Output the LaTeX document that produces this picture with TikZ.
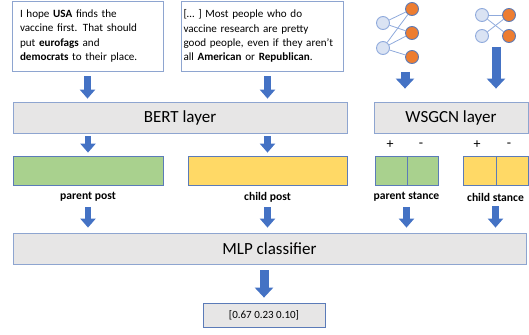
\documentclass[tikz,border=0pt]{standalone}
\usepackage{fontspec}
\setmainfont{Carlito}
\usetikzlibrary{arrows.meta}
\definecolor{boxgrey}{HTML}{E7E6E6}
\definecolor{boxline}{HTML}{8EA5D0}
\definecolor{arrowblue}{HTML}{4472C4}
\definecolor{barline}{HTML}{5B7BB8}
\definecolor{pgreen}{HTML}{A9D18E}
\definecolor{cyellow}{HTML}{FFD966}
\definecolor{nodeblue}{HTML}{DAE3F3}
\definecolor{nodeedge}{HTML}{8FAADC}
\definecolor{orangenode}{HTML}{ED7D31}
\begin{document}
\begin{tikzpicture}[x=1pt,y=-1pt,
  textbox/.style={draw=boxline, line width=0.8pt, fill=white, inner sep=0pt, align=left,
    font=\fontsize{11.1}{14.2}\selectfont},
  layer/.style={draw=boxline, fill=boxgrey, line width=0.8pt, inner sep=0pt,
    font=\fontsize{17}{20}\selectfont},
  bar/.style={draw=barline, line width=0.8pt, inner sep=0pt, minimum height=29pt},
  lbl/.style={font=\fontsize{11.6}{13}\selectfont\bfseries, inner sep=1pt},
  sign/.style={font=\fontsize{14}{16}\selectfont, inner sep=1pt},
  bnode/.style={circle, minimum size=13pt, inner sep=0pt, fill=nodeblue, draw=nodeedge, line width=0.9pt},
  onode/.style={circle, minimum size=13pt, inner sep=0pt, fill=orangenode, draw=barline, line width=0.9pt},
  gedge/.style={draw=nodeedge, line width=0.8pt},
  barrow/.style={draw=arrowblue, line width=6.5pt, -{Triangle[width=15pt,length=9pt]}},
  bigarrow/.style={draw=arrowblue, line width=9pt, -{Triangle[width=18pt,length=10pt]}}
]
\useasboundingbox (0,0) rectangle (529,334);

% input posts
\node[textbox, minimum width=151pt, minimum height=70pt, text width=135pt] (box1) at (87.5,36)
  {I hope \textbf{USA} finds the\\ vaccine first. That should\\ put \textbf{eurofags} and\\ \textbf{democrats} to their place.};
\node[textbox, minimum width=162pt, minimum height=70pt, text width=157pt] (box2) at (262,36)
  {[… ] Most people who do\\ vaccine research are pretty\\ good people, even if they aren't\\ all \textbf{American} or \textbf{Republican}.};

% graphs
\node[bnode] (g1b1) at (383,23) {};
\node[bnode] (g1b2) at (383,48) {};
\node[onode] (g1o1) at (412,9) {};
\node[onode] (g1o2) at (412,33) {};
\node[onode] (g1o3) at (412,57) {};
\draw[gedge] (g1b1) -- (g1o1);
\draw[gedge] (g1b1) -- (g1o2);
\draw[gedge] (g1b2) -- (g1o1);
\draw[gedge] (g1b2) -- (g1o2);
\draw[gedge] (g1b2) -- (g1o3);

\node[bnode] (g2b1) at (482,15) {};
\node[bnode] (g2b2) at (482,36) {};
\node[onode] (g2o1) at (509,15) {};
\node[onode] (g2o2) at (509,36) {};
\draw[gedge] (g2b1) -- (g2o1);
\draw[gedge] (g2b1) -- (g2o2);
\draw[gedge] (g2b2) -- (g2o1);

% layers
\node[layer, minimum width=334pt, minimum height=31pt] (bert) at (180,117.5) {BERT layer};
\node[layer, minimum width=154pt, minimum height=31pt] (wsgcn) at (451,117.5) {WSGCN layer};

% embeddings
\node[bar, fill=pgreen, minimum width=150pt] (pp) at (88,170.5) {};
\node[bar, fill=cyellow, minimum width=159pt] (cp) at (267.5,170.5) {};
\node[bar, fill=pgreen, minimum width=32pt] (ps1) at (391,170.5) {};
\node[bar, fill=pgreen, minimum width=31pt] (ps2) at (422.5,170.5) {};
\node[bar, fill=cyellow, minimum width=33pt] (cs1) at (479.5,170.5) {};
\node[bar, fill=cyellow, minimum width=32pt] (cs2) at (512,170.5) {};

\node[sign] (p1) at (390,145) {+};
\node[sign] (m1) at (421,145) {-};
\node[sign] (p2) at (477,145) {+};
\node[sign] (m2) at (509,145) {-};

\node[lbl] (lpp) at (88,197) {parent post};
\node[lbl] (lcp) at (267.5,197) {child post};
\node[lbl] (lps) at (406.5,197) {parent stance};
\node[lbl] (lcs) at (495.5,197) {child stance};

% classifier
\node[layer, minimum width=513pt, minimum height=31pt] (mlp) at (269.5,248.5) {MLP classifier};
\node[draw=barline, fill=boxgrey, line width=0.8pt, minimum width=122pt, minimum height=24pt,
  inner sep=0pt, font=\fontsize{11}{12}\selectfont] (out) at (264,315) {[0.67 0.23 0.10]};

% graph arrow anchors
\coordinate (g1a) at (405,72);
\coordinate (g2a) at (496,47);

% arrows
\draw[barrow, shorten <=5pt, shorten >=3pt] (box1.south) -- (box1.south |- bert.north);
\draw[barrow, shorten <=5pt, shorten >=3pt] (box1.south -| cp.north) -- (cp.north |- bert.north);
\draw[bigarrow, shorten >=13pt] (g1a) -- (g1a |- wsgcn.north);
\draw[bigarrow, shorten >=13pt] (g2a) -- (g2a |- wsgcn.north);
\draw[barrow, shorten <=3pt, shorten >=3pt] (bert.south -| pp.north) -- (pp.north);
\draw[barrow, shorten <=3pt, shorten >=3pt] (bert.south -| cp.north) -- (cp.north);
\draw[barrow, shorten <=4pt, shorten >=5pt] (lpp.south) -- (lpp.south |- mlp.north);
\draw[barrow, shorten <=4pt, shorten >=5pt] (lcp.south) -- (lcp.south |- mlp.north);
\draw[barrow, shorten <=4pt, shorten >=5pt] (lps.south) -- (lps.south |- mlp.north);
\draw[barrow, shorten <=4pt, shorten >=5pt] (lcs.south) -- (lcs.south |- mlp.north);
\draw[bigarrow, shorten <=6pt, shorten >=5pt] (mlp.south -| out.north) -- (out.north);
\end{tikzpicture}
\end{document}
